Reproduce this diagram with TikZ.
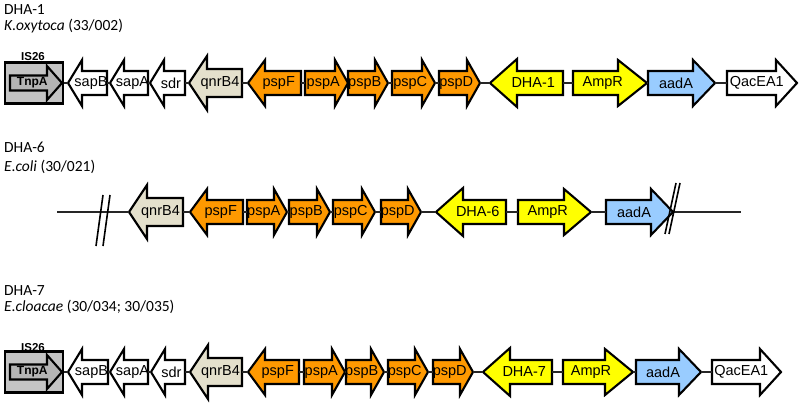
\documentclass[tikz,border=0pt]{standalone}
\usepackage{fontspec}
\setmainfont{Carlito}
\newfontfamily\genefont{Liberation Sans}
\usepackage{xcolor}
\usetikzlibrary{calc}
\definecolor{pspcol}{HTML}{FF9900}
\definecolor{dhacol}{HTML}{FFFF00}
\definecolor{aadcol}{HTML}{99CCFF}
\definecolor{qnrcol}{HTML}{E4E0CC}
\definecolor{iscol}{HTML}{C4C4C4}
\definecolor{tnpcol}{HTML}{B4B4B4}

\tikzset{
  genebox/.style={draw=black, line width=2.1pt, line join=miter},
  genelabel/.style={font=\genefont\fontsize{14.5}{16}\selectfont, inner sep=0pt},
  isbox/.style={draw=black, line width=2.1pt, fill=iscol, minimum width=58pt, minimum height=41pt, inner sep=0pt},
  islabel/.style={font=\genefont\bfseries\fontsize{11.5}{13}\selectfont, inner sep=0pt},
  backbone/.style={line width=1.5pt, black!85},
  brk/.style={line width=1.6pt, black},
  title/.style={anchor=base west, inner sep=0pt, font=\fontsize{15.5}{18}\selectfont},
}

% #1 name, #2 tail x, #3 tip x, #4 head length, #5 half body, #6 half head, #7 fill, #8 label
\newcommand{\gene}[8]{%
  \pgfmathsetmacro{\hb}{#3+#4*sign(#2-#3)}%
  \draw[genebox, fill=#7] (#2,\yc-#5) -- (\hb,\yc-#5) -- (\hb,\yc-#6) -- (#3,\yc)
    -- (\hb,\yc+#6) -- (\hb,\yc+#5) -- (#2,\yc+#5) -- cycle;
  \pgfmathsetmacro{\lx}{(#2+#3)/2-0.25*#4*sign(#3-#2)}%
  \coordinate (#1-l) at ({min(#2,#3)},\yc);
  \coordinate (#1-r) at ({max(#2,#3)},\yc);
  \node[genelabel] (#1) at (\lx,\yc) {#8};
}
\newcommand{\tnp}{\bfseries\fontsize{12}{13}\selectfont TnpA}

\begin{document}
\begin{tikzpicture}[x=1pt, y=-1pt]
  \useasboundingbox (0,0) rectangle (800,406);

  % DHA-1
  \node[title] (t1) at (4,15) {DHA-1};
  \node[title] (s1) at (4,31) {\textit{K.oxytoca} (33/002)};
  \def\yc{83}
  \node[islabel] (a-is) at (33,56.5) {IS26};
  \node[isbox] (a-box) at (34,\yc) {};
  \gene{a-tnp}{10}{62}{15}{7.5}{17}{tnpcol}{\tnp}
  \gene{a-sapB}{107}{68}{14}{12}{23}{white}{sapB}
  \gene{a-sapA}{148}{110}{14}{12}{23}{white}{sapA}
  \gene{a-sdr}{185}{150}{14}{12}{23}{white}{sdr}
  \gene{a-qnr}{242}{189}{18}{14}{27}{qnrcol}{qnrB4}
  \gene{a-pspF}{301}{248}{17}{12}{23}{pspcol}{pspF}
  \gene{a-pspA}{305}{348}{13}{12}{23}{pspcol}{pspA}
  \gene{a-pspB}{348}{388}{13}{12}{23}{pspcol}{pspB}
  \gene{a-pspC}{392}{435}{13}{12}{23}{pspcol}{pspC}
  \gene{a-pspD}{439}{480}{13}{12}{23}{pspcol}{pspD}
  \gene{a-dha}{563}{490}{27}{12}{24}{dhacol}{DHA-1}
  \gene{a-amp}{573}{647}{29}{12}{23}{dhacol}{AmpR}
  \gene{a-aad}{648}{715}{22}{12}{23}{aadcol}{aadA}
  \gene{a-qac}{727}{797}{21}{12}{23}{white}{QacEA1}
  \draw[backbone] (a-box.east) -- (a-sapB-l);
  \foreach \u/\v in {sapB/sapA, sapA/sdr, sdr/qnr, qnr/pspF, pspF/pspA, pspA/pspB,
                     pspB/pspC, pspC/pspD, pspD/dha, dha/amp, amp/aad, aad/qac}
    \draw[backbone] (a-\u-r) -- (a-\v-l);

  % DHA-6
  \node[title] (t2) at (4,153) {DHA-6};
  \node[title] (s2) at (4,172) {\textit{E.coli} (30/021)};
  \def\yc{212}
  \coordinate (b-start) at (57,\yc);
  \coordinate (b-end) at (741,\yc);
  \gene{b-qnr}{183}{129}{18}{14}{27}{qnrcol}{qnrB4}
  \gene{b-pspF}{243}{190}{17}{12}{23}{pspcol}{pspF}
  \gene{b-pspA}{247}{287}{13}{12}{23}{pspcol}{pspA}
  \gene{b-pspB}{289}{330}{13}{12}{23}{pspcol}{pspB}
  \gene{b-pspC}{333}{375}{13}{12}{23}{pspcol}{pspC}
  \gene{b-pspD}{381}{421}{13}{12}{23}{pspcol}{pspD}
  \gene{b-dha}{506}{436}{27}{12}{24}{dhacol}{DHA-6}
  \gene{b-amp}{518}{591}{27}{12}{23}{dhacol}{AmpR}
  \gene{b-aad}{606}{673}{22}{12}{23}{aadcol}{aadA}
  \draw[backbone] (b-start) -- (b-qnr-l);
  \foreach \u/\v in {qnr/pspF, pspF/pspA, pspA/pspB, pspB/pspC, pspC/pspD,
                     pspD/dha, dha/amp, amp/aad}
    \draw[backbone] (b-\u-r) -- (b-\v-l);
  \draw[backbone] (b-aad-r) -- (b-end);
  \draw[brk] (103,195) -- (96,246);
  \draw[brk] (110,195) -- (103,246);
  \draw[brk] (676,183) -- (665,234);
  \draw[brk] (680,183) -- (669,234);

  % DHA-7
  \node[title] (t3) at (4,295) {DHA-7};
  \node[title] (s3) at (4,311) {\textit{E.cloacae} (30/034; 30/035)};
  \def\yc{372}
  \node[islabel] (c-is) at (33,348) {IS26};
  \node[isbox] (c-box) at (34,\yc) {};
  \gene{c-tnp}{10}{62}{15}{7.5}{17}{tnpcol}{\tnp}
  \gene{c-sapB}{108}{68}{14}{12}{23}{white}{sapB}
  \gene{c-sapA}{148}{110}{14}{12}{23}{white}{sapA}
  \gene{c-sdr}{185}{151}{14}{12}{23}{white}{sdr}
  \gene{c-qnr}{242}{190}{18}{14}{27}{qnrcol}{qnrB4}
  \gene{c-pspF}{299}{248}{17}{12}{23}{pspcol}{pspF}
  \gene{c-pspA}{304}{345}{13}{12}{23}{pspcol}{pspA}
  \gene{c-pspB}{346}{384}{13}{12}{23}{pspcol}{pspB}
  \gene{c-pspC}{388}{428}{13}{12}{23}{pspcol}{pspC}
  \gene{c-pspD}{433}{473}{13}{12}{23}{pspcol}{pspD}
  \gene{c-dha}{552}{483}{27}{12}{24}{dhacol}{DHA-7}
  \gene{c-amp}{563}{633}{28}{12}{23}{dhacol}{AmpR}
  \gene{c-aad}{636}{701}{22}{12}{23}{aadcol}{aadA}
  \gene{c-qac}{712}{781}{21}{12}{23}{white}{QacEA1}
  \draw[backbone] (c-box.east) -- (c-sapB-l);
  \foreach \u/\v in {sapB/sapA, sapA/sdr, sdr/qnr, qnr/pspF, pspF/pspA, pspA/pspB,
                     pspB/pspC, pspC/pspD, pspD/dha, dha/amp, amp/aad, aad/qac}
    \draw[backbone] (c-\u-r) -- (c-\v-l);
\end{tikzpicture}
\end{document}
